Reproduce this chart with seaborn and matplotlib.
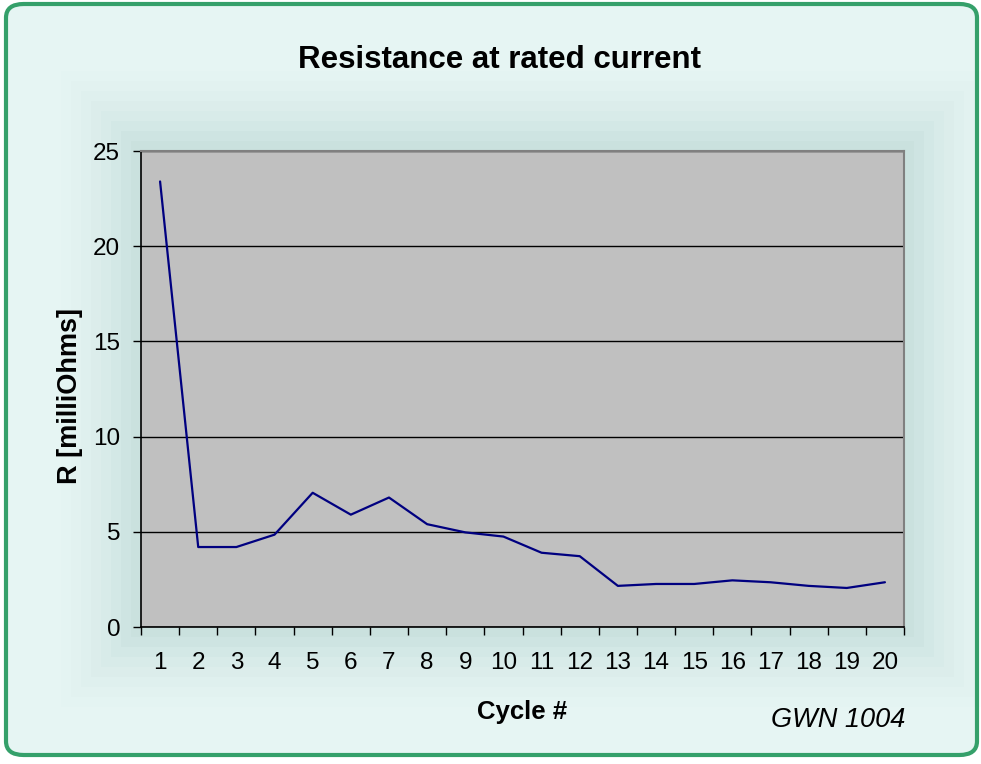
import numpy as np
import pandas as pd
import matplotlib
matplotlib.use("Agg")
import matplotlib.pyplot as plt
from matplotlib.patches import FancyBboxPatch, Rectangle
import seaborn as sns

# data
cycles = list(range(1, 21))
resistance = [23.4, 4.2, 4.2, 4.85, 7.05, 5.9, 6.8, 5.4, 4.97, 4.75,
              3.9, 3.72, 2.16, 2.26, 2.26, 2.45, 2.35, 2.16, 2.05, 2.35]
y_ticks = [0, 5, 10, 15, 20, 25]

title = "Resistance at rated current"
x_label = "Cycle #"
y_label = "R [milliOhms]"
note = "GWN 1004"

df = pd.DataFrame({"cycle": cycles, "R": resistance})

sns.set_theme(style="white")
plt.rcParams['font.family'] = ['Liberation Sans', 'DejaVu Sans']
plt.rcParams['text.color'] = 'black'
plt.rcParams['xtick.color'] = 'black'
plt.rcParams['ytick.color'] = 'black'

W, H = 981, 764
fig = plt.figure(figsize=(W / 100, H / 100), dpi=100)
fig.patch.set_facecolor("white")

# rounded green frame with mint background
frame = FancyBboxPatch((6 / W, 9 / H), 971 / W, 751 / H,
                       boxstyle="round,pad=0,rounding_size=0.018",
                       transform=fig.transFigure, facecolor="#e6f5f3",
                       edgecolor="#35a06a", linewidth=3, zorder=0)
fig.patches.append(frame)

# soft shade behind the plot area
for i, a in enumerate(np.linspace(0.035, 0.008, 8)):
    g = 10 + i * 10
    fig.patches.append(Rectangle(((141 - g) / W, (764 - 627 - g) / H),
                                 (763 + 2 * g) / W, (476 + 2 * g) / H,
                                 transform=fig.transFigure, facecolor="#4f8e8a",
                                 edgecolor="none", alpha=a, zorder=0.5))

ax = fig.add_axes([141 / W, (764 - 627) / H, 763 / W, 476 / H])
ax.set_zorder(3)
ax.set_facecolor("#c0c0c0")

sns.lineplot(data=df, x="cycle", y="R", ax=ax, color="#000080", linewidth=1.6)

ax.set_xlim(0.5, 20.5)
ax.set_ylim(0, 25)
ax.set_yticks(y_ticks)
ax.yaxis.grid(True, color="black", linewidth=1)
ax.xaxis.grid(False)
ax.set_axisbelow(True)

ax.set_xticks(cycles)
ax.set_xticklabels([str(c) for c in cycles])
ax.set_xticks(np.arange(0.5, 21, 1), minor=True)
ax.tick_params(axis="x", which="major", length=0, pad=18.3, labelsize=17.5)
ax.tick_params(axis="x", which="minor", length=6, width=1, color="black",
               direction="out", bottom=True)
ax.tick_params(axis="y", length=6, width=1, color="black", direction="out",
               left=True, pad=9, labelsize=17.5)

for side in ["left", "bottom"]:
    ax.spines[side].set_color("black")
    ax.spines[side].set_linewidth(1.2)
for side in ["top", "right"]:
    ax.spines[side].set_color("#808080")
    ax.spines[side].set_linewidth(1.5)

ax.set_xlabel("")
ax.set_ylabel("")

fig.text(500 / W, 1 - 60 / H, title, ha="center", va="center",
         fontsize=22.5, fontweight="bold")
fig.text(522 / W, 1 - 712 / H, x_label, ha="center", va="center",
         fontsize=18.5, fontweight="bold")
fig.text(70 / W, 1 - 396 / H, y_label, ha="center", va="center",
         fontsize=19.5, fontweight="bold", rotation=90)
fig.text(838 / W, 1 - 720 / H, note, ha="center", va="center",
         fontsize=19.5, fontstyle="italic")

fig.savefig("out.png", dpi=100, facecolor=fig.get_facecolor())
